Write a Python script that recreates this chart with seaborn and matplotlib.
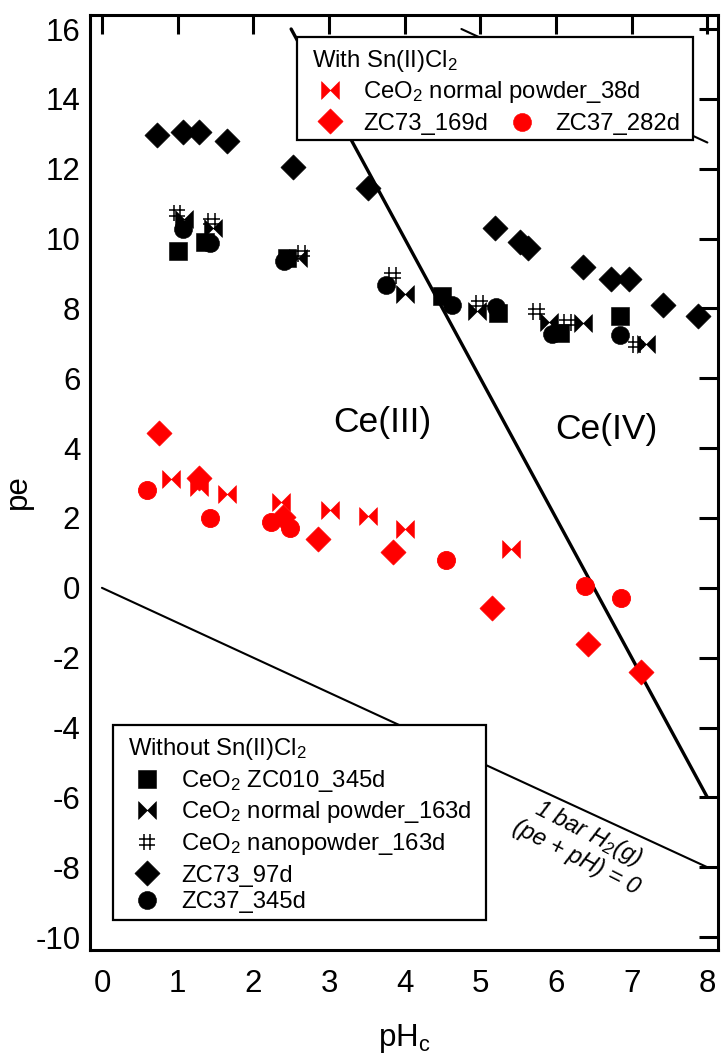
import numpy as np
import pandas as pd
import matplotlib
matplotlib.use("Agg")
import matplotlib.pyplot as plt
from matplotlib.path import Path
from matplotlib.patches import Rectangle
import seaborn as sns

# ---------------- data: without Sn(II)Cl2 ----------------
zc010_345_ph = [1.00, 1.36, 2.44, 4.50, 5.23, 6.05, 6.84]
zc010_345_pe = [9.63, 9.89, 9.43, 8.37, 7.86, 7.29, 7.77]

normal163_ph = [1.08, 1.47, 2.59, 4.01, 4.96, 5.91, 6.35, 7.19]
normal163_pe = [10.57, 10.31, 9.43, 8.40, 7.94, 7.60, 7.57, 6.97]

nano163_ph = [0.99, 1.45, 2.64, 3.84, 4.99, 5.74, 6.15, 7.06]
nano163_pe = [10.74, 10.49, 9.57, 8.94, 8.14, 7.91, 7.60, 6.97]

zc73_97_ph = [0.73, 1.07, 1.28, 1.65, 2.52, 3.52, 5.20, 5.52, 5.63, 6.35, 6.73, 6.96, 7.42, 7.87]
zc73_97_pe = [12.97, 13.06, 13.06, 12.80, 12.06, 11.46, 10.29, 9.90, 9.72, 9.20, 8.83, 8.83, 8.09, 7.77]

zc37_345_ph = [1.07, 1.43, 2.40, 3.76, 4.62, 5.21, 5.95, 6.84]
zc37_345_pe = [10.26, 9.86, 9.37, 8.66, 8.11, 8.03, 7.26, 7.23]

# ---------------- data: with Sn(II)Cl2 ----------------
normal38_ph = [0.91, 1.28, 1.65, 2.36, 3.01, 3.51, 4.00, 5.40]
normal38_pe = [3.11, 2.89, 2.69, 2.46, 2.23, 2.06, 1.69, 1.11]

zc73_169_ph = [0.75, 1.28, 2.39, 2.85, 3.84, 5.15, 6.42, 7.12]
zc73_169_pe = [4.43, 3.14, 2.03, 1.40, 1.03, -0.57, -1.60, -2.40]

zc37_282_ph = [0.59, 1.43, 2.23, 2.48, 4.55, 6.38, 6.86]
zc37_282_pe = [2.80, 2.00, 1.89, 1.71, 0.80, 0.06, -0.29]

# ---------------- boundary lines ----------------
ce_boundary_ph = [2.5, 8.0]      # Ce(III)/Ce(IV)
ce_boundary_pe = [16.0, -6.0]
h2_ph = [0.0, 8.0]               # 1 bar H2(g)
h2_pe = [0.0, -8.0]
o2_ph = [4.75, 8.0]              # upper water stability limit
o2_pe = [16.0, 12.75]

x_ticks = list(range(0, 9))
y_ticks = list(range(-10, 17, 2))

# ---------------- style ----------------
sns.set_theme(style="white")
plt.rcParams["font.family"] = ["Liberation Sans", "DejaVu Sans"]
plt.rcParams["mathtext.default"] = "regular"
plt.rcParams["axes.unicode_minus"] = False
plt.rcParams["axes.linewidth"] = 2.2

RED = "#ff0000"
BLACK = "#000000"

# custom markers
bowtie = Path(
    [(-1, -1), (0, 0), (-1, 1), (-1, -1), (1, -1), (0, 0), (1, 1), (1, -1)],
    [Path.MOVETO, Path.LINETO, Path.LINETO, Path.CLOSEPOLY,
     Path.MOVETO, Path.LINETO, Path.LINETO, Path.CLOSEPOLY],
)
hashmark = Path(
    [(-0.4, -1), (-0.4, 1), (0.4, -1), (0.4, 1),
     (-1, -0.35), (1, -0.35), (-1, 0.35), (1, 0.35)],
    [Path.MOVETO, Path.LINETO] * 4,
)

S_DIAMOND = 165
S_SQUARE = 165
S_CIRCLE = 170
S_BOWTIE = 165
S_HASH = 140

fig = plt.figure(figsize=(7.21, 10.59), dpi=100)
ax = fig.add_axes([0.1248, 0.1029, 0.871, 0.8829])

# boundary lines
lines = [
    (ce_boundary_ph, ce_boundary_pe, 2.4),
    (h2_ph, h2_pe, 1.5),
    (o2_ph, o2_pe, 1.5),
]
for xs, ys, lw in lines:
    sns.lineplot(x=xs, y=ys, color=BLACK, lw=lw, ax=ax, zorder=2,
                 estimator=None, sort=False)


def scatter(xs, ys, marker, size, color, hollow=False, lw=0.4):
    kws = dict(x=xs, y=ys, marker=marker, s=size, ax=ax, zorder=3,
               legend=False, linewidth=lw, edgecolor=color)
    if hollow:
        kws["facecolor"] = "none"
    else:
        kws["color"] = color
    sns.scatterplot(**kws)


# black series (without Sn(II)Cl2)
scatter(zc73_97_ph, zc73_97_pe, "D", S_DIAMOND, BLACK)
scatter(zc010_345_ph, zc010_345_pe, "s", S_SQUARE, BLACK)
scatter(zc37_345_ph, zc37_345_pe, "o", S_CIRCLE, BLACK)
scatter(normal163_ph, normal163_pe, bowtie, S_BOWTIE, BLACK)
scatter(nano163_ph, nano163_pe, hashmark, S_HASH, BLACK, hollow=True, lw=1.1)

# red series (with Sn(II)Cl2)
scatter(zc73_169_ph, zc73_169_pe, "D", S_DIAMOND, RED)
scatter(normal38_ph, normal38_pe, bowtie, S_BOWTIE, RED)
scatter(zc37_282_ph, zc37_282_pe, "o", S_CIRCLE, RED, lw=0.6)

# axes
ax.set_xlim(-0.158, 8.14)
ax.set_ylim(-10.37, 16.40)
ax.set_xticks(x_ticks)
ax.set_yticks(y_ticks)
ax.tick_params(direction="in", length=14, width=2.2, top=True, right=True,
               labelsize=22.5, color=BLACK, labelcolor=BLACK)
ax.tick_params(axis="x", pad=14)
ax.tick_params(axis="y", pad=7)
for sp in ax.spines.values():
    sp.set_color(BLACK)
    sp.set_linewidth(2.2)
ax.grid(False)

ax.set_xlabel("pH$_c$", fontsize=22.5, color=BLACK)
ax.set_ylabel("pe", fontsize=22.5, color=BLACK)
ax.xaxis.set_label_coords(0.5, -0.077)
ax.yaxis.set_label_coords(-0.09, 0.49)

# region labels
ax.text(3.70, 4.72, "Ce(III)", fontsize=25.5, ha="center", va="center", color=BLACK)
ax.text(6.67, 4.52, "Ce(IV)", fontsize=25.5, ha="center", va="center", color=BLACK)
ax.text(6.35, -7.35, "1 bar H$_2$(g)\n(pe + pH) = 0", fontsize=17,
        style="italic", rotation=-27, rotation_mode="anchor",
        ha="center", va="center", multialignment="center",
        linespacing=1.15, color=BLACK)


# ---------------- legends (drawn in axes fraction) ----------------
def fx(px):
    return (px - 90) / 628.0


def fy(py):
    return (950 - py) / 935.0


def box(x0, y0, x1, y1):
    ax.add_patch(Rectangle((fx(x0), fy(y1)), fx(x1) - fx(x0), fy(y0) - fy(y1),
                           transform=ax.transAxes, facecolor="white",
                           edgecolor=BLACK, lw=1.6, zorder=5, clip_on=False))


def key(px, py, marker, size, color, hollow=False, lw=0.4):
    ax.scatter([fx(px)], [fy(py)], marker=marker, s=size,
               facecolor="none" if hollow else color, edgecolor=color,
               linewidth=lw, transform=ax.transAxes, zorder=6, clip_on=False)


def label(px, py, txt):
    ax.text(fx(px), fy(py), txt, transform=ax.transAxes, fontsize=17.2,
            ha="left", va="baseline", color=BLACK, zorder=6)


# with Sn(II)Cl2
box(297, 37, 693, 140)
label(312, 67, "With Sn(II)Cl$_2$")
key(330, 90, bowtie, S_BOWTIE, RED)
label(363, 98, "CeO$_2$ normal powder_38d")
key(330, 121, "D", S_DIAMOND, RED)
label(363, 130, "ZC73_169d")
key(522, 122, "o", S_CIRCLE, RED)
label(555, 130, "ZC37_282d")

# without Sn(II)Cl2
box(113, 725, 486, 920)
label(128, 755, "Without Sn(II)Cl$_2$")
key(147, 779, "s", S_SQUARE, BLACK)
label(181, 787, "CeO$_2$ ZC010_345d")
key(147, 810, bowtie, S_BOWTIE, BLACK)
label(181, 818, "CeO$_2$ normal powder_163d")
key(147, 842, hashmark, S_HASH, BLACK, hollow=True, lw=1.1)
label(181, 850, "CeO$_2$ nanopowder_163d")
key(147, 873, "D", S_DIAMOND, BLACK)
label(181, 882, "ZC73_97d")
key(147, 900, "o", S_CIRCLE, BLACK)
label(181, 908, "ZC37_345d")

fig.savefig("out.png", dpi=100, facecolor="white")
